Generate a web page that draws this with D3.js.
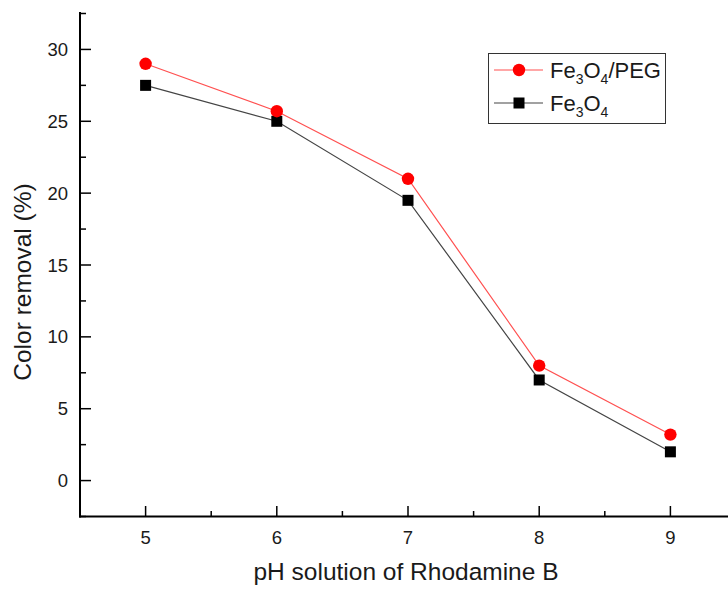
<!DOCTYPE html>
<html><head><meta charset="utf-8">
<script src="https://cdn.jsdelivr.net/npm/d3@7"></script>
<style>body{margin:0;background:#fff}svg{display:block}text{font-family:"Liberation Sans",Arial,sans-serif}</style>
</head><body>
<script>
const phValues = [5, 6, 7, 8, 9];
const pegRemoval = [29, 25.7, 21, 8, 3.2];
const fe3o4Removal = [27.5, 25, 19.5, 7, 2];
const xTickValues = [5, 6, 7, 8, 9];
const yTickValues = [0, 5, 10, 15, 20, 25, 30];

const W = 728, H = 589;
const svg = d3.select("body").append("svg").attr("width", W).attr("height", H);
const x = d3.scaleLinear().domain([4.5, 9.5]).range([80, 736]);
const y = d3.scaleLinear().domain([-2.5, 32.5]).range([516.5, 13.5]);

const g = svg.append("g");
const minorX = d3.range(4.5, 9.51, 0.5).filter(v => !xTickValues.includes(v));
const minorY = d3.range(-2.5, 32.51, 2.5).filter(v => !yTickValues.includes(v));
g.selectAll(".mx").data(minorX).enter().append("line")
  .attr("x1", d => x(d)).attr("x2", d => x(d)).attr("y1", 516.5).attr("y2", 511)
  .attr("stroke", "#000").attr("stroke-width", 1.5);
g.selectAll(".Mx").data(xTickValues).enter().append("line")
  .attr("x1", d => x(d)).attr("x2", d => x(d)).attr("y1", 516.5).attr("y2", 506)
  .attr("stroke", "#000").attr("stroke-width", 1.5);
g.selectAll(".my").data(minorY).enter().append("line")
  .attr("x1", 80).attr("x2", 86).attr("y1", d => y(d)).attr("y2", d => y(d))
  .attr("stroke", "#000").attr("stroke-width", 1.5);
g.selectAll(".My").data(yTickValues).enter().append("line")
  .attr("x1", 80).attr("x2", 91).attr("y1", d => y(d)).attr("y2", d => y(d))
  .attr("stroke", "#000").attr("stroke-width", 1.5);
g.append("line").attr("x1", 80).attr("x2", 80).attr("y1", 12).attr("y2", 517.5).attr("stroke", "#000").attr("stroke-width", 2);
g.append("line").attr("x1", 79).attr("x2", 740).attr("y1", 516.5).attr("y2", 516.5).attr("stroke", "#000").attr("stroke-width", 2);

g.selectAll(".xl").data(xTickValues).enter().append("text")
  .attr("x", d => x(d)).attr("y", 543.5).attr("text-anchor", "middle")
  .attr("font-size", 18.5).attr("fill", "#1a1a1a").text(d => d);
g.selectAll(".yl").data(yTickValues).enter().append("text")
  .attr("x", 68).attr("y", d => y(d) + 6.5).attr("text-anchor", "end")
  .attr("font-size", 18.5).attr("fill", "#1a1a1a").text(d => d);

svg.append("text").attr("x", 406).attr("y", 580).attr("text-anchor", "middle")
  .attr("font-size", 24.5).attr("fill", "#1a1a1a").text("pH solution of Rhodamine B");
svg.append("text").attr("transform", "translate(31,282) rotate(-90)").attr("text-anchor", "middle")
  .attr("font-size", 24.5).attr("fill", "#1a1a1a").text("Color removal (%)");

const series = [
  {vals: pegRemoval, line: "#ff5050", fill: "#ff0000", shape: "circle"},
  {vals: fe3o4Removal, line: "#444", fill: "#000", shape: "square"}
];
const lineGen = d3.line().x(d => x(d[0])).y(d => y(d[1]));
series.slice().reverse().forEach(s => {
  const pts = phValues.map((p, i) => [p, s.vals[i]]);
  svg.append("path").attr("d", lineGen(pts)).attr("fill", "none").attr("stroke", s.line).attr("stroke-width", 1.2);
});
series.slice().reverse().forEach(s => {
  const pts = phValues.map((p, i) => [p, s.vals[i]]);
  if (s.shape === "circle") {
    svg.selectAll(null).data(pts).enter().append("circle")
      .attr("cx", d => x(d[0])).attr("cy", d => y(d[1])).attr("r", 6.2).attr("fill", s.fill);
  } else {
    svg.selectAll(null).data(pts).enter().append("rect")
      .attr("x", d => x(d[0]) - 5.5).attr("y", d => y(d[1]) - 5.5).attr("width", 11).attr("height", 11).attr("fill", s.fill);
  }
});

const lg = svg.append("g");
lg.append("rect").attr("x", 488.5).attr("y", 53.5).attr("width", 177).attr("height", 70)
  .attr("fill", "#fff").attr("stroke", "#333").attr("stroke-width", 1);
const legendItems = [
  {base: "Fe", s1: "3", m: "O", s2: "4", tail: "/PEG", si: 0},
  {base: "Fe", s1: "3", m: "O", s2: "4", tail: "", si: 1}
];
legendItems.forEach((it, i) => {
  const s = series[it.si];
  const cy = 70 + i * 33;
  lg.append("line").attr("x1", 494).attr("x2", 543).attr("y1", cy).attr("y2", cy).attr("stroke", s.line).attr("stroke-width", 1.2);
  if (s.shape === "circle") lg.append("circle").attr("cx", 519).attr("cy", cy).attr("r", 6.2).attr("fill", s.fill);
  else lg.append("rect").attr("x", 513.5).attr("y", cy - 5.5).attr("width", 11).attr("height", 11).attr("fill", s.fill);
  const t = lg.append("text").attr("x", 550).attr("y", cy + 8).attr("font-size", 22).attr("fill", "#1a1a1a");
  t.append("tspan").text(it.base);
  t.append("tspan").attr("font-size", 14).attr("dy", 6).text(it.s1);
  t.append("tspan").attr("dy", -6).text(it.m);
  t.append("tspan").attr("font-size", 14).attr("dy", 6).text(it.s2);
  if (it.tail) t.append("tspan").attr("dy", -6).text(it.tail);
});
</script>
</body></html>
